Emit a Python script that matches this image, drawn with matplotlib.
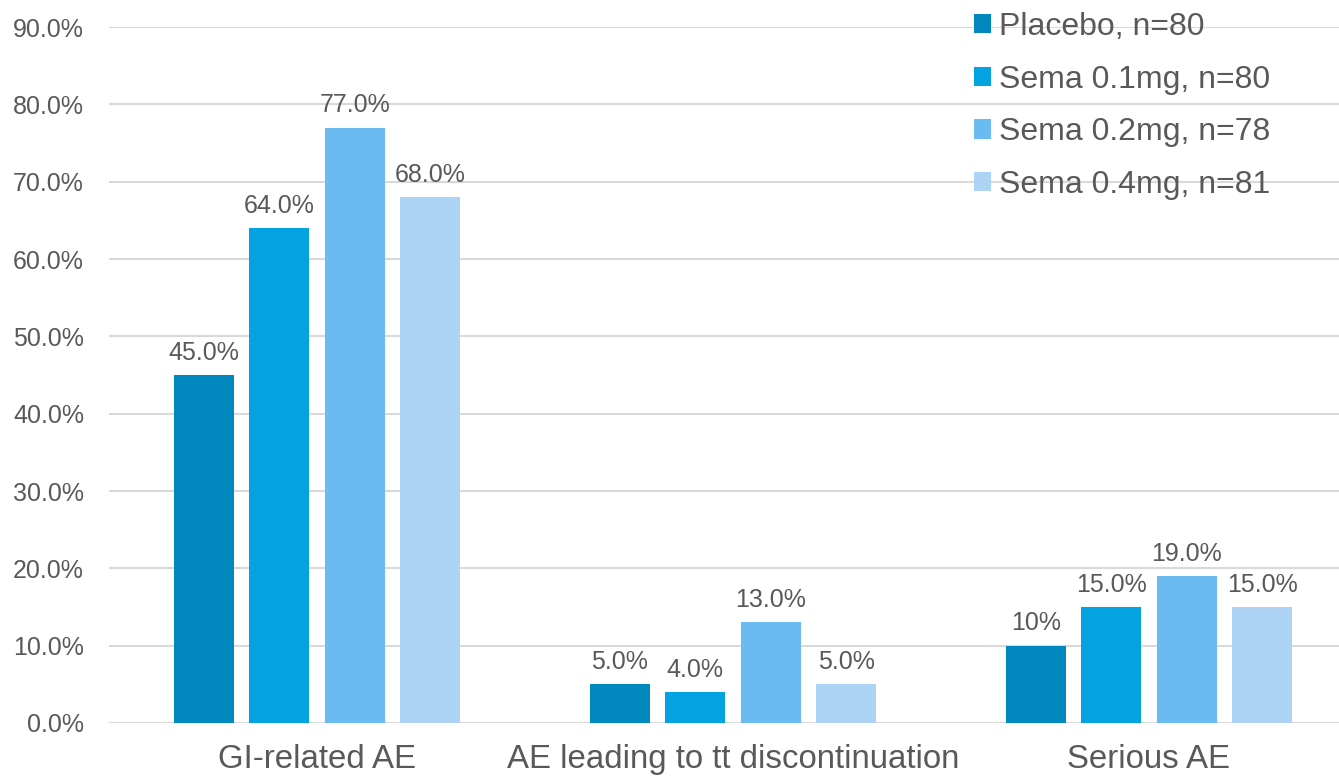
import numpy as np
import matplotlib.pyplot as plt
from matplotlib.patches import Patch
from matplotlib.ticker import PercentFormatter

plt.rcParams["font.family"] = ["Liberation Sans", "DejaVu Sans"]

categories = ["GI-related AE", "AE leading to tt discontinuation", "Serious AE"]
groups = ["Placebo, n=80", "Sema 0.1mg, n=80", "Sema 0.2mg, n=78", "Sema 0.4mg, n=81"]
placebo = [45.0, 5.0, 10.0]
sema_01 = [64.0, 4.0, 15.0]
sema_02 = [77.0, 13.0, 19.0]
sema_04 = [68.0, 5.0, 15.0]
# Serious AE placebo label is printed without decimals
labels = [
    ["45.0%", "5.0%", "10%"],
    ["64.0%", "4.0%", "15.0%"],
    ["77.0%", "13.0%", "19.0%"],
    ["68.0%", "5.0%", "15.0%"],
]

colors = ["#0088BF", "#03A3E1", "#69BBF1", "#ADD4F4"]
text_color = "#595959"

fig = plt.figure(figsize=(13.39, 7.79), dpi=100)
ax = fig.add_axes([0.0814, 0.0719, 0.932, 0.8934])

x = np.arange(len(categories))
pitch = 0.1815
width = 0.144
series = [placebo, sema_01, sema_02, sema_04]
for i, vals in enumerate(series):
    pos = x + (i - 1.5) * pitch
    bars = ax.bar(pos, vals, width=width, color=colors[i], zorder=3)
    for b, lab in zip(bars, labels[i]):
        ax.annotate(lab, (b.get_x() + b.get_width() / 2, b.get_height()),
                    xytext=(0, 7.5), textcoords="offset points",
                    ha="center", va="bottom", fontsize=18, color=text_color)

ax.set_xlim(-0.5, 2.5)
ax.set_ylim(0, 90)
ax.set_yticks(np.arange(0, 91, 10))
ax.yaxis.set_major_formatter(PercentFormatter(decimals=1))
ax.set_xticks(x)
ax.set_xticklabels(categories)
ax.tick_params(axis="x", length=0, pad=15, labelsize=23.8, labelcolor=text_color)
ax.tick_params(axis="y", length=0, pad=18, labelsize=18, labelcolor=text_color)
ax.yaxis.grid(True, color="#D9D9D9", linewidth=1.5, zorder=0)
for s in ax.spines.values():
    s.set_visible(False)

handles = [Patch(facecolor=c, edgecolor="none") for c in colors]
leg = fig.legend(handles, groups, loc="upper left", bbox_to_anchor=(0.7175, 1.001),
                 frameon=False, fontsize=23, handlelength=0.55, handleheight=0.55,
                 handletextpad=0.25, labelspacing=0.71, borderaxespad=0)
for t in leg.get_texts():
    t.set_color(text_color)

fig.savefig("out.png", dpi=100, facecolor="white")
